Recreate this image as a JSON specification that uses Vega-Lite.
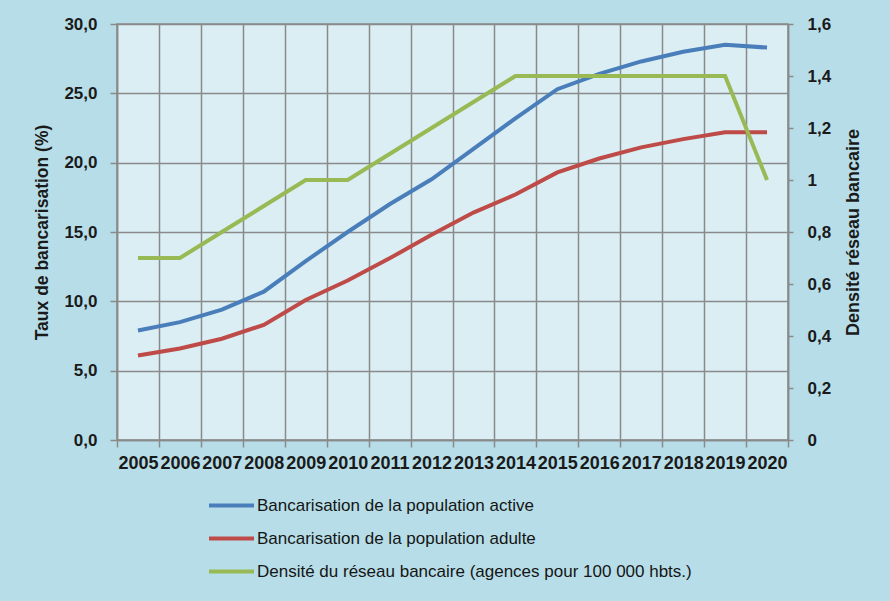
{
  "$schema": "https://vega.github.io/schema/vega-lite/v6.json",
  "width": 671,
  "height": 416,
  "autosize": {"type": "none"},
  "padding": {"left": 117, "top": 24, "right": 102, "bottom": 161},
  "background": "#b7dee8",
  "config": {
    "view": {"fill": "#daeef3", "stroke": "#8a8a8a", "strokeWidth": 1.5},
    "font": "Liberation Sans"
  },
  "data": {
    "values": [
      {"year": "2005", "series": "Bancarisation de la population active", "value": 7.9},
      {"year": "2006", "series": "Bancarisation de la population active", "value": 8.5},
      {"year": "2007", "series": "Bancarisation de la population active", "value": 9.4},
      {"year": "2008", "series": "Bancarisation de la population active", "value": 10.7},
      {"year": "2009", "series": "Bancarisation de la population active", "value": 12.9},
      {"year": "2010", "series": "Bancarisation de la population active", "value": 15.0},
      {"year": "2011", "series": "Bancarisation de la population active", "value": 17.0},
      {"year": "2012", "series": "Bancarisation de la population active", "value": 18.8},
      {"year": "2013", "series": "Bancarisation de la population active", "value": 21.0},
      {"year": "2014", "series": "Bancarisation de la population active", "value": 23.2},
      {"year": "2015", "series": "Bancarisation de la population active", "value": 25.3},
      {"year": "2016", "series": "Bancarisation de la population active", "value": 26.4},
      {"year": "2017", "series": "Bancarisation de la population active", "value": 27.3},
      {"year": "2018", "series": "Bancarisation de la population active", "value": 28.0},
      {"year": "2019", "series": "Bancarisation de la population active", "value": 28.5},
      {"year": "2020", "series": "Bancarisation de la population active", "value": 28.3},
      {"year": "2005", "series": "Bancarisation de la population adulte", "value": 6.1},
      {"year": "2006", "series": "Bancarisation de la population adulte", "value": 6.6},
      {"year": "2007", "series": "Bancarisation de la population adulte", "value": 7.3},
      {"year": "2008", "series": "Bancarisation de la population adulte", "value": 8.3},
      {"year": "2009", "series": "Bancarisation de la population adulte", "value": 10.1},
      {"year": "2010", "series": "Bancarisation de la population adulte", "value": 11.5},
      {"year": "2011", "series": "Bancarisation de la population adulte", "value": 13.1},
      {"year": "2012", "series": "Bancarisation de la population adulte", "value": 14.8},
      {"year": "2013", "series": "Bancarisation de la population adulte", "value": 16.4},
      {"year": "2014", "series": "Bancarisation de la population adulte", "value": 17.7},
      {"year": "2015", "series": "Bancarisation de la population adulte", "value": 19.3},
      {"year": "2016", "series": "Bancarisation de la population adulte", "value": 20.3},
      {"year": "2017", "series": "Bancarisation de la population adulte", "value": 21.1},
      {"year": "2018", "series": "Bancarisation de la population adulte", "value": 21.7},
      {"year": "2019", "series": "Bancarisation de la population adulte", "value": 22.2},
      {"year": "2020", "series": "Bancarisation de la population adulte", "value": 22.2},
      {"year": "2005", "series": "Densité du réseau bancaire (agences pour 100 000 hbts.)", "value": 0.7},
      {"year": "2006", "series": "Densité du réseau bancaire (agences pour 100 000 hbts.)", "value": 0.7},
      {"year": "2007", "series": "Densité du réseau bancaire (agences pour 100 000 hbts.)", "value": 0.8},
      {"year": "2008", "series": "Densité du réseau bancaire (agences pour 100 000 hbts.)", "value": 0.9},
      {"year": "2009", "series": "Densité du réseau bancaire (agences pour 100 000 hbts.)", "value": 1.0},
      {"year": "2010", "series": "Densité du réseau bancaire (agences pour 100 000 hbts.)", "value": 1.0},
      {"year": "2011", "series": "Densité du réseau bancaire (agences pour 100 000 hbts.)", "value": 1.1},
      {"year": "2012", "series": "Densité du réseau bancaire (agences pour 100 000 hbts.)", "value": 1.2},
      {"year": "2013", "series": "Densité du réseau bancaire (agences pour 100 000 hbts.)", "value": 1.3},
      {"year": "2014", "series": "Densité du réseau bancaire (agences pour 100 000 hbts.)", "value": 1.4},
      {"year": "2015", "series": "Densité du réseau bancaire (agences pour 100 000 hbts.)", "value": 1.4},
      {"year": "2016", "series": "Densité du réseau bancaire (agences pour 100 000 hbts.)", "value": 1.4},
      {"year": "2017", "series": "Densité du réseau bancaire (agences pour 100 000 hbts.)", "value": 1.4},
      {"year": "2018", "series": "Densité du réseau bancaire (agences pour 100 000 hbts.)", "value": 1.4},
      {"year": "2019", "series": "Densité du réseau bancaire (agences pour 100 000 hbts.)", "value": 1.4},
      {"year": "2020", "series": "Densité du réseau bancaire (agences pour 100 000 hbts.)", "value": 1.0}
    ]
  },
  "encoding": {
    "x": {
      "field": "year",
      "type": "ordinal",
      "bandPosition": 0.5,
      "scale": {"type": "band", "paddingInner": 0, "paddingOuter": 0},
      "axis": {
        "title": null,
        "tickBand": "extent",
        "grid": true,
        "gridColor": "#8a8a8a",
        "gridWidth": 1.5,
        "domainColor": "#8a8a8a",
        "domainWidth": 1.5,
        "tickColor": "#8a8a8a",
        "tickWidth": 1.5,
        "tickSize": 7,
        "labelAngle": 0,
        "labelFont": "Liberation Sans",
        "labelFontWeight": "bold",
        "labelFontSize": 18,
        "labelColor": "#1a1a1a",
        "labelPadding": 7,
        "labelOverlap": false,
        "labelBound": false
      }
    },
    "color": {
      "field": "series",
      "type": "nominal",
      "scale": {
        "domain": [
          "Bancarisation de la population active",
          "Bancarisation de la population adulte",
          "Densité du réseau bancaire (agences pour 100 000 hbts.)"
        ],
        "range": ["#4a7ebb", "#be4b48", "#98b954"]
      },
      "legend": {
        "orient": "none",
        "legendX": 90,
        "legendY": 457,
        "title": null,
        "direction": "vertical",
        "symbolType": "stroke",
        "symbolSize": 2025,
        "symbolStrokeWidth": 4,
        "labelFont": "Liberation Sans",
        "labelFontSize": 17,
        "labelColor": "#151515",
        "labelOffset": 1,
        "rowPadding": -10,
        "labelLimit": 600
      }
    }
  },
  "layer": [
    {
      "transform": [{"filter": "datum.series != 'Densité du réseau bancaire (agences pour 100 000 hbts.)'"}],
      "mark": {"type": "line", "strokeWidth": 4},
      "encoding": {
        "y": {
          "field": "value",
          "type": "quantitative",
          "scale": {"domain": [0, 30], "nice": false},
          "axis": {
            "title": "Taux de bancarisation (%)",
            "titleFontSize": 17.5,
            "titleFontWeight": "bold",
            "titleColor": "#1a1a1a",
            "titlePadding": 12,
            "values": [0, 5, 10, 15, 20, 25, 30],
            "labelExpr": "replace(format(datum.value, '.1f'), '.', ',')",
            "labelFontSize": 17,
            "labelFontWeight": "bold",
            "labelColor": "#1a1a1a",
            "labelPadding": 13,
            "grid": true,
            "gridColor": "#8a8a8a",
            "gridWidth": 1.5,
            "domainColor": "#8a8a8a",
            "domainWidth": 1.5,
            "tickColor": "#8a8a8a",
            "tickWidth": 1.5,
            "tickSize": 7
          }
        }
      }
    },
    {
      "transform": [{"filter": "datum.series == 'Densité du réseau bancaire (agences pour 100 000 hbts.)'"}],
      "mark": {"type": "line", "strokeWidth": 4},
      "encoding": {
        "y": {
          "field": "value",
          "type": "quantitative",
          "scale": {"domain": [0, 1.6], "nice": false},
          "axis": {
            "orient": "right",
            "title": "Densité réseau bancaire",
            "titleAngle": -90,
            "titleFontSize": 18,
            "titleFontWeight": "bold",
            "titleColor": "#1a1a1a",
            "titlePadding": 32,
            "values": [0, 0.2, 0.4, 0.6, 0.8, 1, 1.2, 1.4, 1.6],
            "labelExpr": "replace(format(datum.value, '~g'), '.', ',')",
            "labelFontSize": 17,
            "labelFontWeight": "bold",
            "labelColor": "#1a1a1a",
            "labelPadding": 14,
            "grid": false,
            "domainColor": "#8a8a8a",
            "domainWidth": 1.5,
            "tickColor": "#8a8a8a",
            "tickWidth": 1.5,
            "tickSize": 5
          }
        }
      }
    }
  ],
  "resolve": {"scale": {"y": "independent"}}
}
